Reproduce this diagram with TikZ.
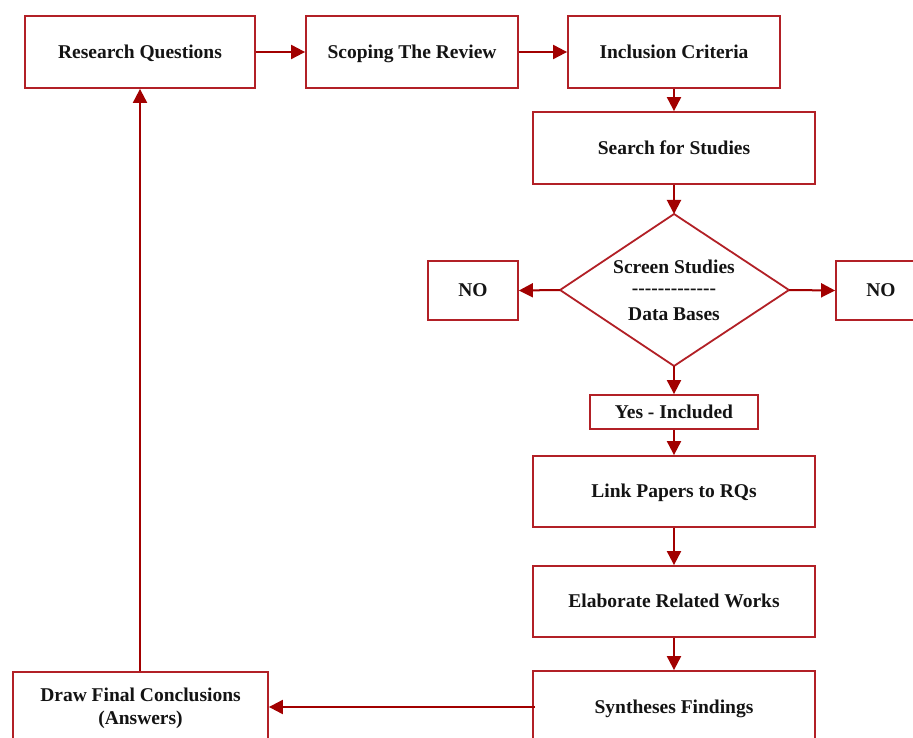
\documentclass[tikz,border=0pt]{standalone}
\usepackage{fontspec}
\setmainfont{Liberation Serif}
\usetikzlibrary{arrows.meta}
\definecolor{arrowred}{RGB}{162,0,0}
\definecolor{boxred}{RGB}{178,32,38}
\begin{document}
\begin{tikzpicture}[x=1pt,y=-1pt,
  box/.style={draw=boxred, line width=1.8pt, fill=white, inner sep=0pt, align=center,
    font=\fontsize{19.5}{23}\selectfont\bfseries, text=black!92},
  one/.style={text height=14pt, text depth=1.5pt},
  conn/.style={draw=arrowred, line width=2pt, -{Triangle[length=14pt,width=14pt]}},
  txt/.style={inner sep=0pt, align=center, font=\fontsize{19.5}{23}\selectfont\bfseries, text=black!92}]
\useasboundingbox (0,0) rectangle (913,738);
\fill[white] (0,0) rectangle (913,738);

\node[box, one, minimum width=230pt, minimum height=72pt] (rq) at (140,52) {Research Questions};
\node[box, one, minimum width=212pt, minimum height=72pt] (scope) at (412,52) {Scoping The Review};
\node[box, one, minimum width=212pt, minimum height=72pt] (incl) at (674,52) {Inclusion Criteria};
\node[box, one, minimum width=282pt, minimum height=72pt] (search) at (674,148) {Search for Studies};

% diamond
\coordinate (dtop) at (674,214);
\coordinate (dbot) at (674,366);
\coordinate (dleft) at (560,290);
\coordinate (dright) at (789,290);
\draw[boxred, line width=1.8pt, fill=white, line join=miter] (dtop) -- (dright) -- (dbot) -- (dleft) -- cycle;
\node[txt] (screen) at (674,267) {Screen Studies};
\node[txt] (dashes) at (674,292) {-{}-{}-{}-{}-{}-{}-{}-{}-{}-{}-{}-{}-};
\node[txt] (db) at (674,314) {Data Bases};

\node[box, one, minimum width=90pt, minimum height=59pt] (noL) at (473,290.5) {NO};
\node[box, one, minimum width=90pt, minimum height=59pt] (noR) at (881,290.5) {NO};
\node[box, one, minimum width=168pt, minimum height=34pt] (yes) at (674,412) {Yes - Included};
\node[box, one, minimum width=282pt, minimum height=71pt] (link) at (674,491.5) {Link Papers to RQs};
\node[box, one, minimum width=282pt, minimum height=71pt] (elab) at (674,601.5) {Elaborate Related Works};
\node[box, one, minimum width=282pt, minimum height=72pt] (synth) at (674,707) {Syntheses Findings};
\node[box, minimum width=255pt, minimum height=72pt] (draw) at (140.5,708) {Draw Final Conclusions\\(Answers)};

\draw[conn] (rq.east) -- (scope.west);
\draw[conn] (scope.east) -- (incl.west);
\draw[conn] (incl.south) -- (search.north);
\draw[conn] (search.south) -- (dtop);
\draw[conn] (dleft) -- (noL.east);
\draw[conn] (dright) -- (noR.west);
\draw[conn] (dbot) -- (yes.north);
\draw[conn] (yes.south) -- (link.north);
\draw[conn] (link.south) -- (elab.north);
\draw[conn] (elab.south) -- (synth.north);
\draw[conn] ([xshift=3pt]synth.west) -- (draw.east |- synth.west);
\draw[conn] (draw.north -| rq.south) -- (rq.south);
\end{tikzpicture}
\end{document}
